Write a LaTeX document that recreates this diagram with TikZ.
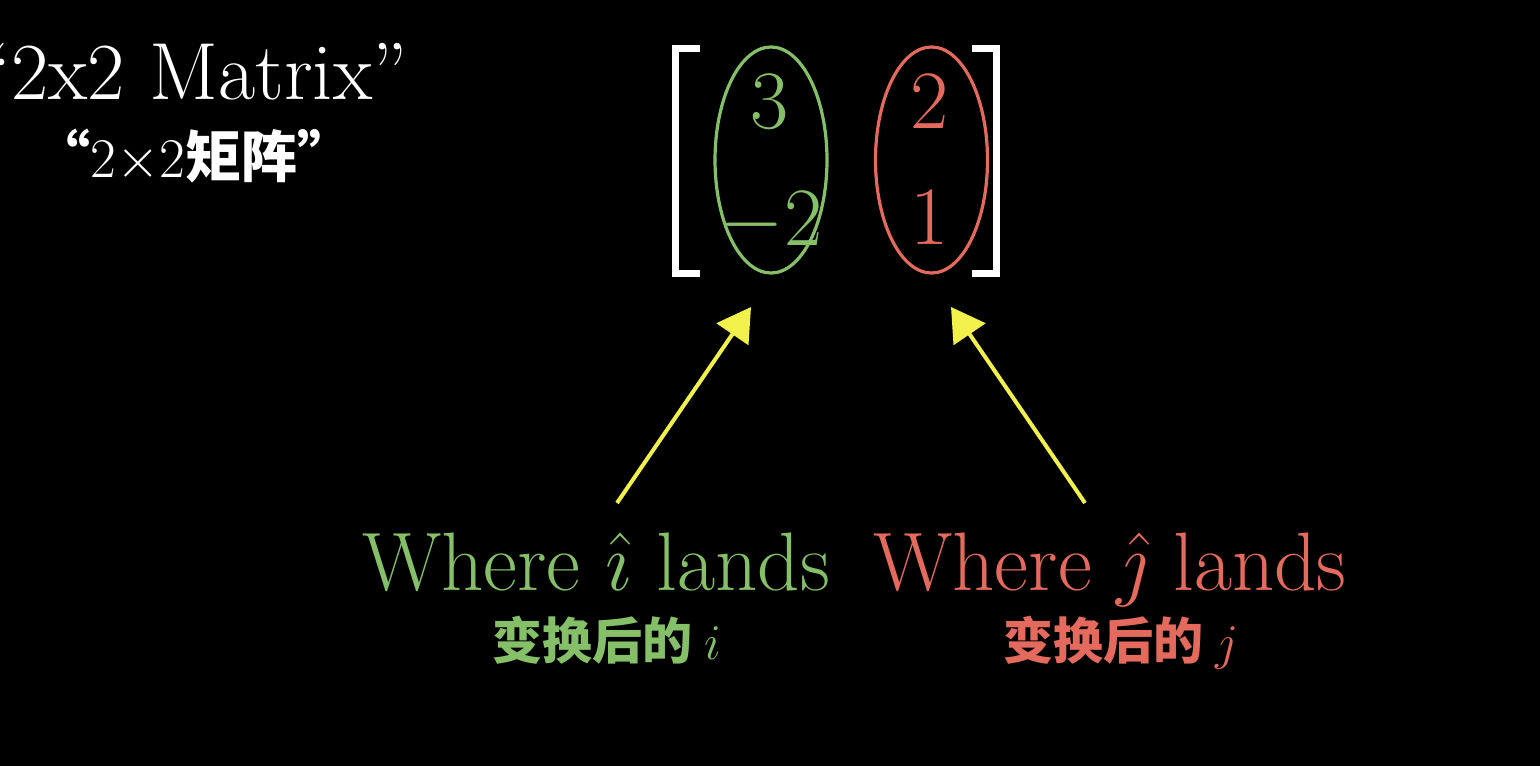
\RequirePackage{fix-cm}
\documentclass[tikz,border=0pt]{standalone}
\usepackage{fontspec}
\newfontfamily\cjk{Noto Sans CJK SC}
\usetikzlibrary{arrows.meta,shapes.geometric}
\definecolor{vgreen}{HTML}{85BF68}
\definecolor{vred}{HTML}{E36A5C}
\definecolor{vyellow}{HTML}{F2F04A}
\tikzset{
  big/.style={inner sep=0pt, font=\fontsize{41.5}{48}\selectfont},
  sub/.style={inner sep=0pt, font=\cjk\bfseries\fontsize{25}{30}\selectfont},
  colring/.style={draw, line width=1.6pt, ellipse, minimum width=56pt, minimum height=113pt, inner sep=0pt},
  bracketline/.style={draw=white, line width=3.5pt},
  pointer/.style={draw=vyellow, line width=2pt, -{Triangle[length=16.5pt,width=19pt]}}
}
\begin{document}
\begin{tikzpicture}[x=0.5pt,y=-0.5pt]
\useasboundingbox (0,0) rectangle (1540,766);
\fill[black] (0,0) rectangle (1540,766);
% title
\node[inner sep=0pt, anchor=base east, text=white, font=\fontsize{40.5}{46}\selectfont] (title) at (408,99) {``2x2 Matrix''};
\node[inner sep=0pt, anchor=base, text=white, font=\cjk\bfseries\fontsize{28}{32}\selectfont] (subtitle) at (194,177) {“{\normalfont$2{\times}2$}矩阵”};
% brackets
\draw[bracketline] (700,48) -- (675,48) -- (675,273) -- (700,273);
\draw[bracketline] (972,48) -- (996.5,48) -- (996.5,273) -- (972,273);
% ellipses
\node[colring, draw=vgreen] (ci) at (771,160) {};
\node[colring, draw=vred] (cj) at (931.5,160) {};
% entries
\node[big, text=vgreen, anchor=base] (a11) at (770,128) {$3$};
\node[big, text=vgreen, anchor=base] (a21) at (771,245) {$-2$};
\node[big, text=vred, anchor=base] (a12) at (930,128) {$2$};
\node[big, text=vred, anchor=base] (a22) at (930,244) {$1$};
% labels
\node[big, text=vgreen, anchor=base] (li) at (596,590) {Where $\hat\imath$ lands};
\node[big, text=vred, anchor=base] (lj) at (1110,590) {Where $\hat\jmath$ lands};
\node[sub, text=vgreen, anchor=base] (si) at (607,659) {变换后的 {\normalfont $i$}};
\node[sub, text=vred, anchor=base] (sj) at (1121,659) {变换后的 {\normalfont $j$}};
% arrows
\coordinate (ais) at (617,503);
\coordinate (aie) at (751,307);
\coordinate (ajs) at (1085,503);
\coordinate (aje) at (951,307);
\draw[pointer] (ais) -- (aie);
\draw[pointer] (ajs) -- (aje);
\end{tikzpicture}
\end{document}
